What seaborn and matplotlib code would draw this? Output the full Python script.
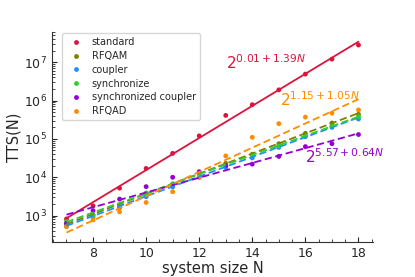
import numpy as np
import pandas as pd
import matplotlib
matplotlib.use('Agg')
import matplotlib.pyplot as plt
import seaborn as sns
from matplotlib.ticker import AutoMinorLocator

# tamaños de sistema
N = [7, 8, 9, 10, 11, 12, 13, 14, 15, 16, 17, 18]

# TTS
standard = [820, 1800, 5200, 17000, 42000, 1.2e5, 4.1e5, 7.8e5, 1.9e6, 4.9e6, 1.2e7, 2.8e7]
rfqam = [600, 1050, 1900, 3700, 6500, 1.25e4, 2.3e4, 4.0e4, 7.5e4, 1.4e5, 2.6e5, 4.4e5]
coupler = [520, 900, 1600, 3100, 5600, 1.0e4, 1.8e4, 3.2e4, 6.0e4, 1.15e5, 2.0e5, 3.3e5]
synchronize = [700, 1000, 1900, 3900, 6800, 1.2e4, 2.0e4, 3.8e4, 6.5e4, 1.2e5, 2.2e5, 3.8e5]
sync_coupler = [630, 1350, 2700, 5700, 1.0e4, 1.4e4, 2.0e4, 2.2e4, 3.5e4, 6.3e4, 7.5e4, 1.3e5]
rfqad = [515, 770, 1250, 2200, 4200, 1.0e4, 3.6e4, 1.1e5, 2.5e5, 3.7e5, 4.7e5, 5.7e5]

labels = ['standard', 'RFQAM', 'coupler', 'synchronize', 'synchronized coupler', 'RFQAD']
colores = ['#dc143c', '#808000', '#1e90ff', '#32cd32', '#9400d3', '#ff8c00']

# ajustes TTS = 2^(a + b N)
fit_a = [0.01, 3.11, 3.11, 3.60, 5.57, 1.15]
fit_b = [1.39, 0.874, 0.853, 0.83, 0.64, 1.05]

series = [standard, rfqam, coupler, synchronize, sync_coupler, rfqad]
df = pd.concat([pd.DataFrame({'N': N, 'TTS': s, 'metodo': l}) for s, l in zip(series, labels)])

Narr = np.array(N, dtype=float)
df_fit = pd.concat([pd.DataFrame({'N': Narr, 'TTS': 2.0 ** (a + b * Narr), 'metodo': l})
                    for a, b, l in zip(fit_a, fit_b, labels)])

sns.set_style('white')
plt.rcParams['font.family'] = ['DejaVu Sans']

fig = plt.figure(figsize=(4.15, 2.77), dpi=100)
ax = fig.add_axes([0.125, 0.126, 0.774, 0.758])

pal = dict(zip(labels, colores))
for l in labels:
    sub = df_fit[df_fit['metodo'] == l]
    sns.lineplot(data=sub, x='N', y='TTS', color=pal[l], ax=ax, lw=1.3,
                 linestyle='-' if l == 'standard' else (0, (4, 2)), legend=False)

sns.scatterplot(data=df, x='N', y='TTS', hue='metodo', palette=pal, hue_order=labels,
                s=12, linewidth=0, ax=ax)

ax.set_yscale('log')
ax.xaxis.set_minor_locator(AutoMinorLocator(4))
ax.tick_params(which='both', direction='in', labelsize=9)
ax.tick_params(which='major', length=3.5)
ax.tick_params(which='minor', length=2)
ax.tick_params(axis='x', which='both', bottom=True)
ax.tick_params(axis='y', which='both', left=True)
for s in ['top', 'right']:
    ax.spines[s].set_visible(False)
for s in ['left', 'bottom']:
    ax.spines[s].set_color('#333333')

ax.set_xlabel('system size N', fontsize=10.5, labelpad=1)
ax.set_ylabel('TTS(N)', fontsize=10.5, labelpad=2)

ax.text(13.0, 1.0e7, r'$2^{0.01+1.39N}$', color=colores[0], fontsize=11, va='center')
ax.text(15.03, 1.05e6, r'$2^{1.15+1.05N}$', color=colores[5], fontsize=11, va='center')
ax.text(16.0, 3.5e4, r'$2^{5.57+0.64N}$', color=colores[4], fontsize=11, va='center')

leg = ax.legend(loc='upper left', fontsize=7, frameon=True, bbox_to_anchor=(0.029, 1.0),
                borderaxespad=0.1, handletextpad=0.6, labelspacing=0.38, borderpad=0.45)
leg.get_frame().set_edgecolor('#cccccc')

fig.savefig('out.png', dpi=100)
